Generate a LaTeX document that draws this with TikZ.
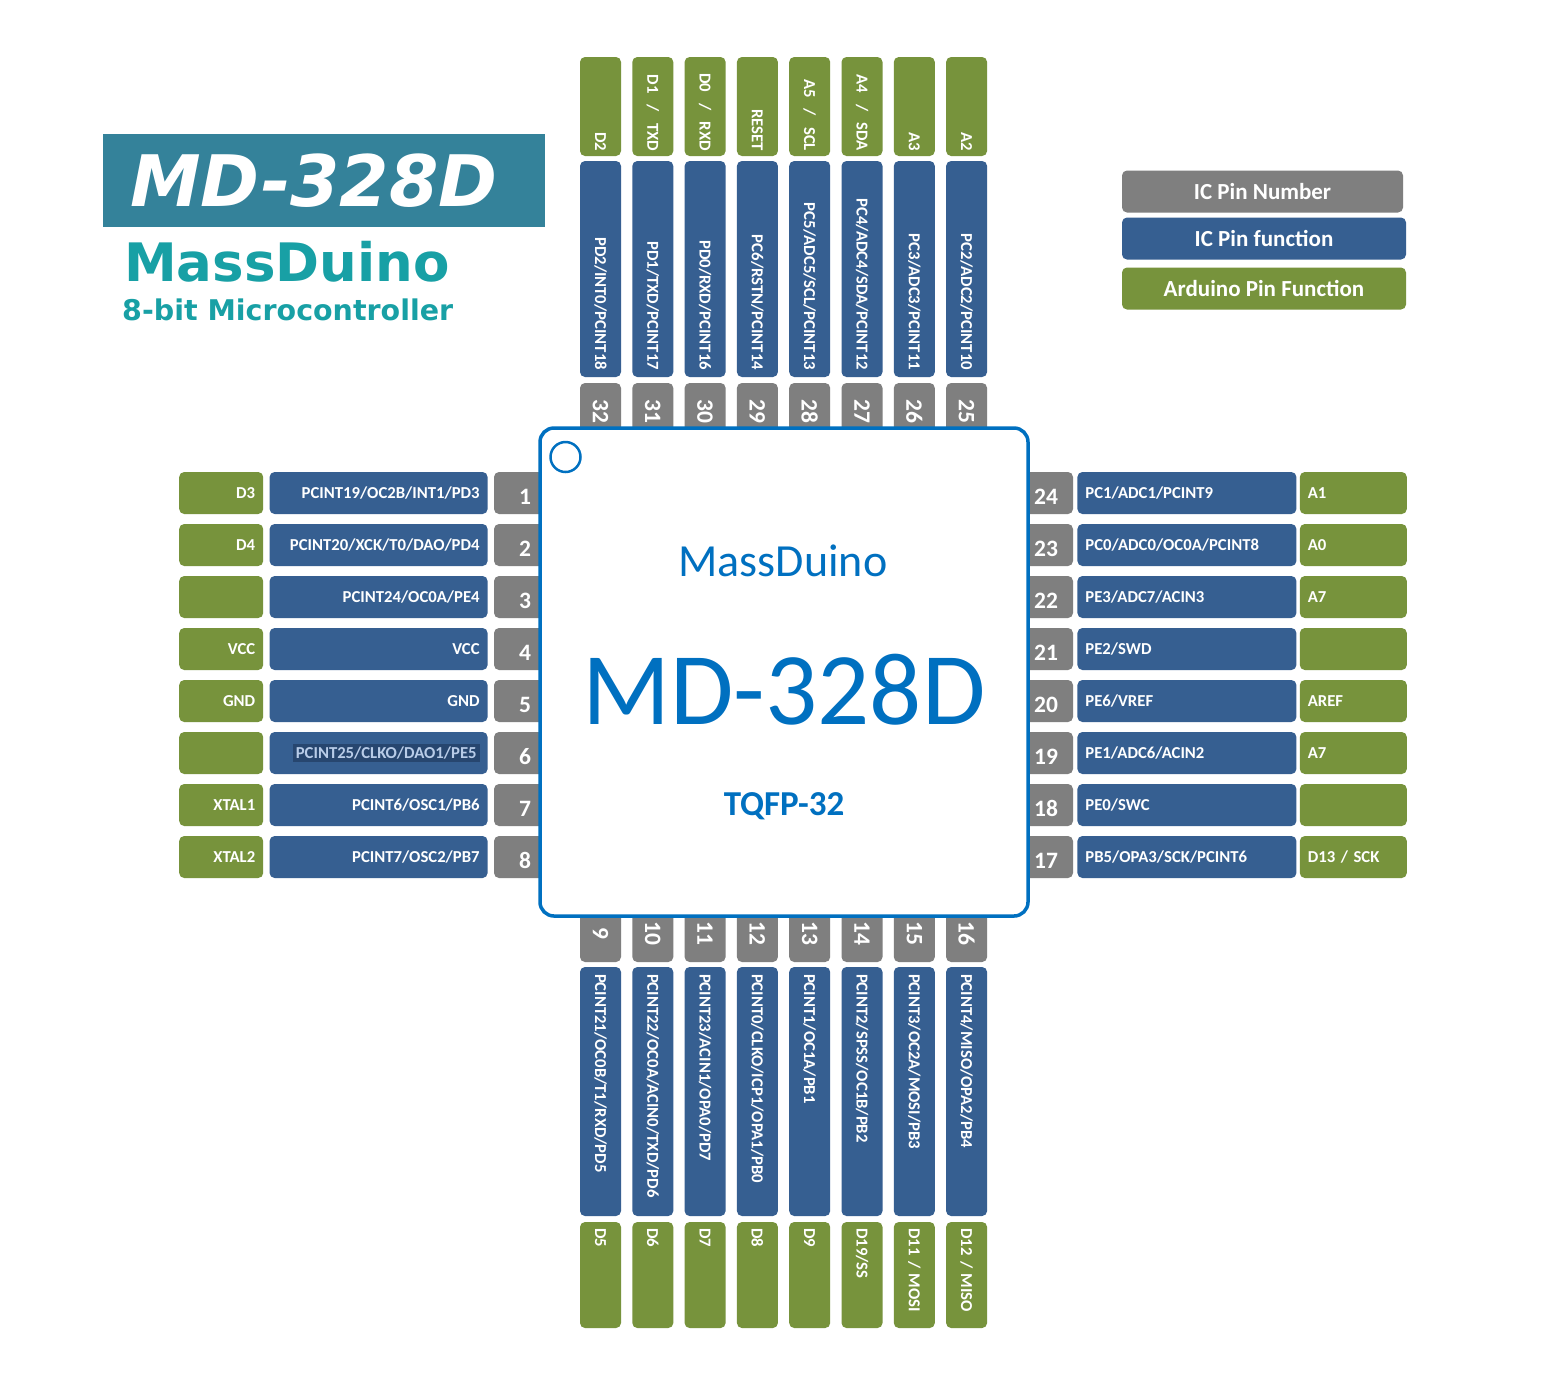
\documentclass[tikz,border=0pt]{standalone}
\usepackage{fontspec}
\setmainfont{Carlito}
\newfontfamily\logofont{DejaVu Sans}
\usepackage{xcolor}
\usetikzlibrary{positioning}

\definecolor{pingray}{HTML}{7F7F7F}
\definecolor{pinblue}{HTML}{365F91}
\definecolor{pingreen}{HTML}{77933C}
\definecolor{chipblue}{HTML}{0070C0}
\definecolor{titlebg}{HTML}{34829A}
\definecolor{teal}{HTML}{18A0A5}
\definecolor{selbg}{HTML}{27466F}
\definecolor{seltext}{HTML}{B8CCE8}

\begin{document}
\begin{tikzpicture}[x=1pt, y=-1pt,
  pinbox/.style={rectangle, rounded corners=5pt, inner sep=0pt,
    text=white, font=\fontsize{16.7}{18}\selectfont\bfseries},
  numbox/.style={pinbox, fill=pingray, font=\fontsize{23.5}{24}\selectfont\bfseries},
  funcbox/.style={pinbox, fill=pinblue},
  ardbox/.style={pinbox, fill=pingreen},
  hbox/.style={minimum height=42},
  vbox/.style={minimum height=41, rotate=-90},
  legend/.style={pinbox, minimum width=282, minimum height=42,
    font=\fontsize{23}{26}\selectfont\bfseries}
]
\useasboundingbox[fill=white] (0,0) rectangle (1565,1385);

% title
\node[fill=titlebg, minimum width=442, minimum height=93, inner sep=0pt]
  (title) at (324,180.5) {};
\node[inner sep=0pt, text=white,
  font=\logofont\fontsize{71}{74}\selectfont\bfseries\itshape]
  (titletext) at (314,181) {MD-328D};
\node[anchor=west, inner sep=0pt, text=teal,
  font=\logofont\fontsize{53}{56}\selectfont\bfseries]
  (brand) at (124,262) {MassDuino};
\node[anchor=west, inner sep=0pt, text=teal,
  font=\logofont\fontsize{28.5}{30}\selectfont\bfseries]
  (subtitle) at (122,310) {8-bit Microcontroller};

% legend
\node[legend, fill=pingray, minimum width=281] (lgnum) at (1262.5,191.5) {IC Pin Number};
\node[legend, fill=pinblue, minimum width=284] (lgfunc) at (1264,238.5) {IC Pin function};
\node[legend, fill=pingreen, minimum width=284] (lgard) at (1264,288.5) {Arduino Pin Function};

% left side, pins 1-8
\foreach \n/\f/\a [count=\i] in {
  1/{PCINT19/OC2B/INT1/PD3}/D3,
  2/{PCINT20/XCK/T0/DAO/PD4}/D4,
  3/{PCINT24/OC0A/PE4}/{},
  4/VCC/VCC,
  5/GND/GND,
  6/{\colorbox{selbg}{\color{seltext}PCINT25/CLKO/DAO1/PE5}}/{},
  7/{PCINT6/OSC1/PB6}/XTAL1,
  8/{PCINT7/OSC2/PB7}/XTAL2} {
  \node[numbox, hbox, minimum width=62, text height=22pt, text depth=0pt]
    (n\n) at (525,{441+52*\i}) {\n};
  \node[funcbox, hbox, minimum width=218, text width=202, align=right,
    left=6pt of n\n] (f\n) {\f};
  \node[ardbox, hbox, minimum width=84, text width=68, align=right,
    left=6pt of f\n] (a\n) {\a};
}

% right side, pins 24-17
\foreach \n/\f/\a [count=\i] in {
  24/{PC1/ADC1/PCINT9}/A1,
  23/{PC0/ADC0/OC0A/PCINT8}/A0,
  22/{PE3/ADC7/ACIN3}/A7,
  21/{PE2/SWD}/{},
  20/{PE6/VREF}/AREF,
  19/{PE1/ADC6/ACIN2}/A7,
  18/{PE0/SWC}/{},
  17/{PB5/OPA3/SCK/PCINT6}/{D13 / SCK}} {
  \node[numbox, hbox, minimum width=54, text height=22pt, text depth=0pt]
    (n\n) at (1046,{441+52*\i}) {\n};
  \node[funcbox, hbox, minimum width=219, text width=203, align=left,
    right=4pt of n\n] (f\n) {\f};
  \node[ardbox, hbox, minimum width=107, text width=91, align=left,
    right=3pt of f\n] (a\n) {\a};
}

% top side, pins 32-25
\foreach \n/\f/\a [count=\i] in {
  32/{PD2/INT0/PCINT18}/D2,
  31/{PD1/TXD/PCINT17}/{D1~~/~~TXD},
  30/{PD0/RXD/PCINT16}/{D0~~/~~RXD},
  29/{PC6/RSTN/PCINT14}/RESET,
  28/{PC5/ADC5/SCL/PCINT13}/{A5~~/~~SCL},
  27/{PC4/ADC4/SDA/PCINT12}/{A4~~/~~SDA},
  26/{PC3/ADC3/PCINT11}/A3,
  25/{PC2/ADC2/PCINT10}/A2} {
  \node[numbox, vbox, minimum width=57] (n\n) at ({548.2+52.3*\i},411.5) {\n};
  \node[funcbox, vbox, minimum width=216, text width=202, align=right]
    (f\n) at ({548.2+52.3*\i},269) {\f};
  \node[ardbox, vbox, minimum width=99, text width=89, align=right]
    (a\n) at ({548.2+52.3*\i},106.5) {\a};
}

% bottom side, pins 9-16
\foreach \n/\f/\a [count=\i] in {
  9/{PCINT21/OC0B/T1/RXD/PD5}/D5,
  10/{PCINT22/OC0A/ACIN0/TXD/PD6}/D6,
  11/{PCINT23/ACIN1/OPA0/PD7}/D7,
  12/{PCINT0/CLKO/ICP1/OPA1/PB0}/D8,
  13/{PCINT1/OC1A/PB1}/D9,
  14/{PCINT2/SPSS/OC1B/PB2}/{D19/SS},
  15/{PCINT3/OC2A/MOSI/PB3}/{D11 / MOSI},
  16/{PCINT4/MISO/OPA2/PB4}/{D12 / MISO}} {
  \node[numbox, vbox, minimum width=57] (n\n) at ({548.2+52.3*\i},933.5) {\n};
  \node[funcbox, vbox, minimum width=249, text width=235, align=left]
    (f\n) at ({548.2+52.3*\i},1091.5) {\f};
  \node[ardbox, vbox, minimum width=106, text width=94, align=left]
    (a\n) at ({548.2+52.3*\i},1275) {\a};
}

% chip body
\node[draw=chipblue, line width=3.5pt, fill=white, rounded corners=14pt,
  minimum width=488, minimum height=488, inner sep=0pt] (chip) at (784,672) {};
\node[draw=chipblue, line width=2.5pt, circle, minimum size=30, inner sep=0pt]
  (dot) at (565.5,457) {};
\node[text=chipblue, font=\fontsize{46}{50}\selectfont] (chipbrand) at (783,561) {MassDuino};
\node[text=chipblue, font=\fontsize{103}{110}\selectfont] (chipname) at (784,690) {MD-328D};
\node[text=chipblue, font=\fontsize{35}{38}\selectfont\bfseries] (chippkg) at (784,806) {TQFP-32};
\end{tikzpicture}
\end{document}
